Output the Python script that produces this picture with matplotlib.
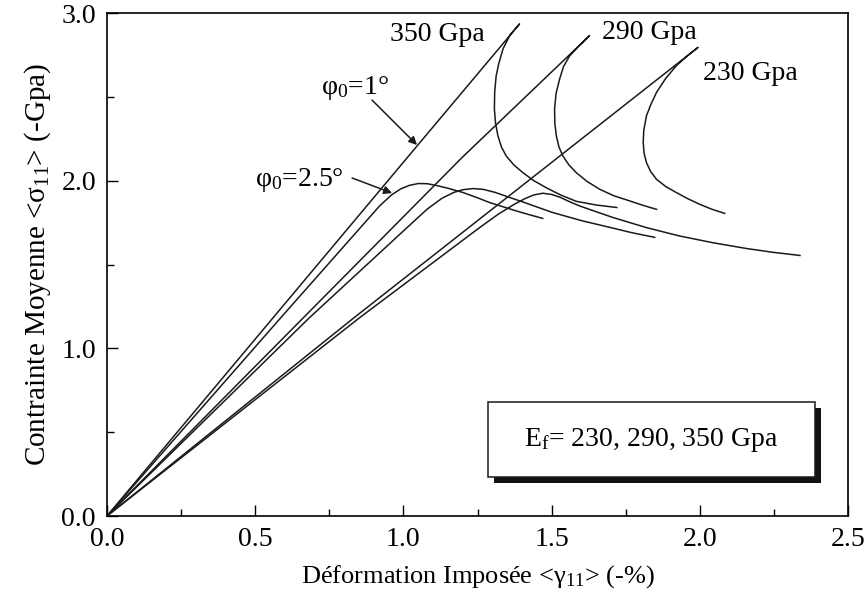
import matplotlib
matplotlib.use('Agg')
import matplotlib.pyplot as plt
from matplotlib.patches import Rectangle
from matplotlib.ticker import MultipleLocator, FormatStrFormatter

plt.rcParams['font.family'] = ['Liberation Serif', 'DejaVu Serif']
plt.rcParams['mathtext.fontset'] = 'custom'
plt.rcParams['mathtext.rm'] = 'Liberation Serif'
plt.rcParams['mathtext.it'] = 'Liberation Serif:italic'

# phi0 = 1 deg : loading then snap-back (strain %, stress GPa)
x350_1 = [0, 0.5, 1.0, 1.392, 1.36, 1.336, 1.322, 1.313, 1.308, 1.307, 1.311, 1.319, 1.331, 1.347,
          1.372, 1.403, 1.44, 1.482, 1.53, 1.583, 1.65, 1.72]
y350_1 = [0, 1.055, 2.11, 2.935, 2.87, 2.786, 2.70, 2.626, 2.53, 2.427, 2.34, 2.267, 2.20, 2.147,
          2.095, 2.048, 2.0, 1.958, 1.915, 1.877, 1.855, 1.84]
x290_1 = [0, 1.199, 1.628, 1.59, 1.561, 1.54, 1.527, 1.515, 1.510, 1.511, 1.516, 1.525, 1.538, 1.558,
          1.583, 1.62, 1.662, 1.71, 1.764, 1.81, 1.854]
y290_1 = [0, 2.14, 2.865, 2.80, 2.745, 2.68, 2.606, 2.52, 2.427, 2.34, 2.267, 2.20, 2.148, 2.095,
          2.048, 1.995, 1.949, 1.91, 1.879, 1.852, 1.829]
x230_1 = [0, 0.828, 1.994, 1.955, 1.921, 1.885, 1.854, 1.835, 1.820, 1.811, 1.809, 1.812, 1.820,
          1.834, 1.854, 1.885, 1.921, 1.96, 2.0, 2.04, 2.084]
y230_1 = [0, 1.175, 2.795, 2.74, 2.686, 2.61, 2.527, 2.455, 2.387, 2.30, 2.228, 2.165, 2.108,
          2.055, 2.008, 1.965, 1.929, 1.892, 1.859, 1.83, 1.805]

# phi0 = 2.5 deg
x350_25 = [0, 0.6, 0.85, 0.92, 0.96, 0.99, 1.02, 1.05, 1.08, 1.11, 1.15, 1.2, 1.25, 1.29, 1.335,
           1.38, 1.425, 1.47]
y350_25 = [0, 1.21, 1.71, 1.85, 1.915, 1.95, 1.972, 1.983, 1.982, 1.972, 1.955, 1.93, 1.898, 1.87,
           1.845, 1.82, 1.797, 1.775]
x290_25 = [0, 0.682, 1.0, 1.08, 1.13, 1.17, 1.2, 1.235, 1.27, 1.31, 1.35, 1.4, 1.5, 1.6, 1.7, 1.77,
           1.848]
y290_25 = [0, 1.181, 1.70, 1.83, 1.895, 1.93, 1.946, 1.953, 1.948, 1.93, 1.905, 1.875, 1.812, 1.762,
           1.72, 1.69, 1.662]
x230_25 = [0, 0.851, 1.257, 1.32, 1.37, 1.41, 1.44, 1.47, 1.50, 1.53, 1.56, 1.595, 1.65, 1.706, 1.82,
           1.932, 2.044, 2.159, 2.25, 2.338]
y230_25 = [0, 1.181, 1.72, 1.80, 1.855, 1.893, 1.915, 1.925, 1.918, 1.90, 1.875, 1.849, 1.815, 1.781,
           1.72, 1.67, 1.63, 1.595, 1.572, 1.554]

fig = plt.figure(figsize=(8.67, 6.0), dpi=100)
ax = fig.add_axes([0.1234, 0.14, 0.8547, 0.8383])

for xs, ys in [(x350_1, y350_1), (x290_1, y290_1), (x230_1, y230_1),
               (x350_25, y350_25), (x290_25, y290_25), (x230_25, y230_25)]:
    ax.plot(xs, ys, color='#1a1a1a', lw=1.1, solid_joinstyle='round')

ax.set_xlim(0, 2.5)
ax.set_ylim(0, 3.0)
ax.xaxis.set_major_locator(MultipleLocator(0.5))
ax.xaxis.set_minor_locator(MultipleLocator(0.25))
ax.yaxis.set_major_locator(MultipleLocator(1.0))
ax.yaxis.set_minor_locator(MultipleLocator(0.5))
ax.xaxis.set_major_formatter(FormatStrFormatter('%.1f'))
ax.yaxis.set_major_formatter(FormatStrFormatter('%.1f'))
ax.tick_params(which='major', direction='in', length=8, width=1, labelsize=20, pad=8)
ax.tick_params(which='minor', direction='in', length=5, width=1)
for s in ax.spines.values():
    s.set_linewidth(1.2)

ax.set_xlabel('Déformation Imposée <γ$_{11}$> (-%)', fontsize=19, labelpad=8)
ax.set_ylabel('Contrainte Moyenne <σ$_{11}$> (-Gpa)', fontsize=21, labelpad=6)

ax.text(1.113, 2.869, '350 Gpa', fontsize=20, ha='center', va='center')
ax.text(1.829, 2.881, '290 Gpa', fontsize=20, ha='center', va='center')
ax.text(2.169, 2.642, '230 Gpa', fontsize=20, ha='center', va='center')

arrow = dict(arrowstyle='-|>', color='#1a1a1a', lw=1.1, mutation_scale=12, shrinkA=0, shrinkB=0)
ax.annotate('', xy=(1.046, 2.213), xytext=(0.894, 2.481), arrowprops=arrow)
ax.annotate('', xy=(0.962, 1.926), xytext=(0.827, 2.016), arrowprops=arrow)
ax.text(0.837, 2.553, 'φ$_0$=1°', fontsize=20, ha='center', va='center')
ax.text(0.648, 2.004, 'φ$_0$=2.5°', fontsize=20, ha='center', va='center')

# boxed legend with drop shadow
bx, by, bw, bh = 0.514, 0.0775, 0.441, 0.149
dx, dy = 6 / 741, 6 / 503
ax.add_patch(Rectangle((bx + dx, by - dy), bw, bh, transform=ax.transAxes,
                       facecolor='#111111', edgecolor='none', zorder=5))
ax.add_patch(Rectangle((bx, by), bw, bh, transform=ax.transAxes,
                       facecolor='white', edgecolor='#1a1a1a', lw=1.1, zorder=6))
ax.text(bx + bw / 2, by + bh / 2, 'E$_\\mathrm{f}$= 230, 290, 350 Gpa', transform=ax.transAxes,
        fontsize=20, ha='center', va='center', zorder=7)

fig.savefig('out.png', dpi=100)
